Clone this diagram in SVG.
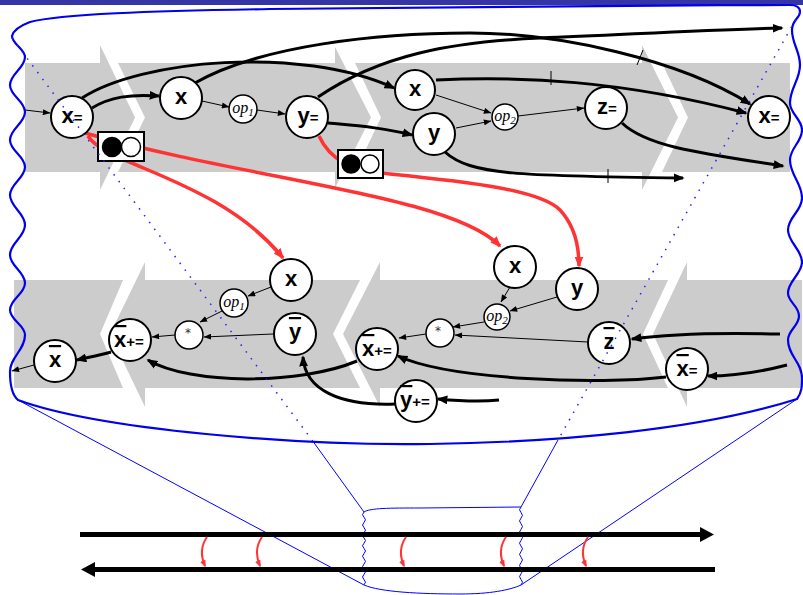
<svg xmlns="http://www.w3.org/2000/svg" width="803" height="595" viewBox="0 0 803 595">
<defs>
<style>
.band{fill:#cccccc}
.nd{fill:#fff;stroke:#000;stroke-width:2}
.sn{fill:#fff;stroke:#000;stroke-width:1.5}
.lb{font-family:"Liberation Sans",Arial,sans-serif;font-weight:bold;font-size:22px;text-anchor:middle;fill:#000}
.sm{font-size:15px}
.op{font-family:"Liberation Serif","Times New Roman",serif;font-style:italic;font-size:16px;text-anchor:middle;fill:#000}
.sub{font-size:11px}
.ast{font-family:"DejaVu Sans","Liberation Sans",sans-serif;font-size:12px;text-anchor:middle;fill:#333333}
.thk{fill:none;stroke:#000;stroke-width:3}
.thn{fill:none;stroke:#000;stroke-width:1}
.red{fill:none;stroke:#ff3333;stroke-width:3.5}
.rs{fill:none;stroke:#ff3333;stroke-width:2}
.ov{text-decoration:overline}
.blob{fill:none;stroke:#0000ee;stroke-width:2.2}
.zl{fill:none;stroke:#0000ff;stroke-width:1}
.dot{fill:none;stroke:#2222ff;stroke-width:1.5;stroke-dasharray:1.5 7}
.sw{fill:#fff;stroke:#000;stroke-width:2}
</style>
<marker id="ak" viewBox="0 0 10 8" refX="8.5" refY="4" markerWidth="11" markerHeight="9" markerUnits="userSpaceOnUse" orient="auto"><path d="M0,0 L10,4 L0,8 z" fill="#000"/></marker>
<marker id="as" viewBox="0 0 10 8" refX="9.5" refY="4" markerWidth="8" markerHeight="6" markerUnits="userSpaceOnUse" orient="auto"><path d="M0,0 L10,4 L0,8 z" fill="#000"/></marker>
<marker id="ar" viewBox="0 0 10 8" refX="8.5" refY="4" markerWidth="11" markerHeight="9" markerUnits="userSpaceOnUse" orient="auto"><path d="M0,0 L10,4 L0,8 z" fill="#ff3333"/></marker>
<marker id="arr" viewBox="0 0 10 8" refX="8" refY="4" markerWidth="7" markerHeight="6" markerUnits="userSpaceOnUse" orient="auto"><path d="M0,0 L10,4 L0,8 z" fill="#ff3333"/></marker>
</defs>
<rect x="0" y="0" width="803" height="595" fill="#fff"/>
<rect x="0" y="0" width="803" height="5" fill="#3535a5"/>

<g id="bands">
<polygon class="band" points="25,63 100,63 100,45 135,117.5 100,190 100,172 25,172"/>
<polygon class="band" points="118,63 335,63 335,47 371,117.5 335,188 335,172 118,172 145,117.5"/>
<polygon class="band" points="355,63 642,63 642,45 678,117.5 642,190 642,172 355,172 381,117.5"/>
<polygon class="band" points="662,63 790,63 790,172 662,172 688,117.5"/>
<polygon class="band" points="14,280 123,280 100,334 123,388 14,388"/>
<polygon class="band" points="145,280 145,262 110,334 145,407 145,388 360,388 333,334 360,280"/>
<polygon class="band" points="380,280 380,262 343,334 380,407 380,388 668,388 643,334 668,280"/>
<polygon class="band" points="687,280 687,262 653,334 687,407 687,388 802,388 802,280"/>
</g>

<g id="connectors">
<path class="thn" d="M25,110 L50,113" marker-end="url(#as)"/>
<path class="thk" d="M92,108 C110,97 130,94 159,96" marker-end="url(#ak)"/>
<path class="thk" d="M82,98 C140,60 300,45 394,88" marker-end="url(#ak)"/>
<path class="thk" d="M193,84 C260,45 380,33 470,33 C560,33 680,60 750,104" marker-end="url(#ak)"/>
<path class="thn" d="M637,65 L643,50"/>
<path class="thk" d="M318,97 C380,55 450,42 540,38 C620,35 700,30 782,28" marker-end="url(#ak)"/>
<path class="thn" d="M202,101 L229,107" marker-end="url(#as)"/>
<path class="thn" d="M257,110 L285,114" marker-end="url(#as)"/>
<path class="thk" d="M328,123 C360,126 385,128 412,135" marker-end="url(#ak)"/>
<path class="thn" d="M436,95 L491,113" marker-end="url(#as)"/>
<path class="thn" d="M456,128 L491,121" marker-end="url(#as)"/>
<path class="thn" d="M518,116 L584,108" marker-end="url(#as)"/>
<path class="thk" d="M436,80 C520,76 620,80 746,113" marker-end="url(#ak)"/>
<path class="thn" d="M551,71 L551,85"/>
<path class="thk" d="M445,152 C470,175 520,176 683,178" marker-end="url(#ak)"/>
<path class="thn" d="M608,169 L608,183"/>
<path class="thk" d="M622,123 C645,145 690,152 783,166" marker-end="url(#ak)"/>

<path class="thn" d="M271,287 L248,296" marker-end="url(#as)"/>
<path class="thn" d="M222,311 L200,322" marker-end="url(#as)"/>
<path class="thn" d="M273,334 L204,337" marker-end="url(#as)"/>
<path class="thn" d="M175,335 L152,337" marker-end="url(#as)"/>
<path class="thk" d="M111,352 C100,355 90,357 77,360" marker-end="url(#ak)"/>
<path class="thn" d="M34,365 L12,371" marker-end="url(#as)"/>
<path class="thk" d="M357,361 C300,385 190,385 148,360" marker-end="url(#ak)"/>
<path class="thk" d="M395,404 C340,406 305,390 303,357" marker-end="url(#ak)"/>
<path class="thk" d="M499,400 C480,402 460,401 438,399" marker-end="url(#ak)"/>
<path class="thn" d="M510,287 L501,302" marker-end="url(#as)"/>
<path class="thn" d="M557,297 L510,311" marker-end="url(#as)"/>
<path class="thn" d="M484,322 L453,327" marker-end="url(#as)"/>
<path class="thn" d="M588,342 L455,335" marker-end="url(#as)"/>
<path class="thn" d="M426,334 L399,338" marker-end="url(#as)"/>
<path class="thk" d="M666,377 C600,385 450,380 398,356" marker-end="url(#ak)"/>
<path class="thk" d="M780,334 C700,332 660,335 632,339" marker-end="url(#ak)"/>
<path class="thk" d="M787,365 C760,372 735,376 708,376" marker-end="url(#ak)"/>

<path class="red" d="M85,133 C250,180 450,195 500,246" marker-end="url(#ar)"/>
<path class="red" d="M88,136 C105,165 220,180 283,258" marker-end="url(#ar)"/>
<path class="red" d="M319,136 C330,160 350,170 390,174 C470,182 540,190 560,210 C574,225 579,245 579,266" marker-end="url(#ar)"/>
</g>

<g id="n-xeq1"><circle class="nd" cx="72" cy="117" r="21"/><text class="lb" x="72" y="123">x<tspan class="sm">=</tspan></text></g>
<g id="n-x1"><circle class="nd" cx="181" cy="98" r="21"/><text class="lb" x="181" y="104">x</text></g>
<g id="n-op1"><circle class="sn" cx="243" cy="109" r="14"/><text class="op" x="243" y="113">op<tspan class="sub" dy="3">1</tspan></text></g>
<g id="n-yeq"><circle class="nd" cx="307" cy="117" r="21"/><text class="lb" x="308" y="123">y<tspan class="sm">=</tspan></text></g>
<g id="n-x2"><circle class="nd" cx="415" cy="90" r="20"/><text class="lb" x="415" y="96">x</text></g>
<g id="n-y2"><circle class="nd" cx="434" cy="134" r="21"/><text class="lb" x="434" y="140">y</text></g>
<g id="n-op2"><circle class="sn" cx="505" cy="117" r="13"/><text class="op" x="505" y="121">op<tspan class="sub" dy="3">2</tspan></text></g>
<g id="n-zeq"><circle class="nd" cx="606" cy="108" r="21"/><text class="lb" x="607" y="114">z<tspan class="sm">=</tspan></text></g>
<g id="n-xeq2"><circle class="nd" cx="769" cy="117" r="21"/><text class="lb" x="769" y="123">x<tspan class="sm">=</tspan></text></g>

<g id="sw1"><rect class="sw" x="98" y="132" width="46" height="29"/><circle cx="112" cy="147" r="9.5" fill="#000" stroke="#000" stroke-width="1.5"/><circle class="sn" cx="131" cy="147" r="9.5"/></g>
<g id="sw2"><rect class="sw" x="338" y="150" width="45" height="28"/><circle cx="351" cy="164" r="9" fill="#000" stroke="#000" stroke-width="1.5"/><circle class="sn" cx="370" cy="164" r="9"/></g>

<g id="n-xb1"><circle class="nd" cx="55" cy="361" r="21"/><text class="lb" x="55" y="367"><tspan class="ov">x</tspan></text></g>
<g id="n-xbpe1"><circle class="nd" cx="130" cy="340" r="21"/><text class="lb" x="129" y="347"><tspan class="ov">x</tspan><tspan class="sm">+=</tspan></text></g>
<g id="n-mul1"><circle class="sn" cx="189" cy="335" r="14"/><text class="ast" x="188" y="337" fill="#333333">*</text></g>
<g id="n-op1b"><circle class="sn" cx="234" cy="303" r="14"/><text class="op" x="234" y="307">op<tspan class="sub" dy="3">1</tspan></text></g>
<g id="n-x3"><circle class="nd" cx="291" cy="280" r="21"/><text class="lb" x="291" y="286">x</text></g>
<g id="n-yb"><circle class="nd" cx="295" cy="334" r="21"/><text class="lb" x="295" y="339"><tspan class="ov">y</tspan></text></g>
<g id="n-xbpe2"><circle class="nd" cx="377" cy="349" r="21"/><text class="lb" x="377" y="356"><tspan class="ov">x</tspan><tspan class="sm">+=</tspan></text></g>
<g id="n-mul2"><circle class="sn" cx="440" cy="333" r="14"/><text class="ast" x="438" y="335" fill="#333333">*</text></g>
<g id="n-op2b"><circle class="sn" cx="497" cy="317" r="13"/><text class="op" x="497" y="321">op<tspan class="sub" dy="3">2</tspan></text></g>
<g id="n-x4"><circle class="nd" cx="515" cy="267" r="21"/><text class="lb" x="515" y="273">x</text></g>
<g id="n-ybpe"><circle class="nd" cx="416" cy="401" r="21"/><text class="lb" x="415" y="407"><tspan class="ov">y</tspan><tspan class="sm">+=</tspan></text></g>
<g id="n-y3"><circle class="nd" cx="577" cy="289" r="21"/><text class="lb" x="577" y="295">y</text></g>
<g id="n-zb"><circle class="nd" cx="609" cy="343" r="21"/><text class="lb" x="609" y="349"><tspan class="ov">z</tspan></text></g>
<g id="n-xbeq"><circle class="nd" cx="687" cy="369" r="21"/><text class="lb" x="687" y="376"><tspan class="ov">x</tspan><tspan class="sm">=</tspan></text></g>

<g id="zoom">
<path class="blob" d="M12,36 C12,44 25,49 25,57 C25,68 10,74 10,85 C10,96 25,101 25,112 C25,123 10,129 10,140 C10,151 25,156 25,167 C25,178 10,184 10,195 C10,207 25,213 25,225 C25,237 10,243 10,255 C10,266 25,272 25,283 C25,294 10,299 10,310 C10,320 25,325 25,335 C25,350 10,357 10,372 C10,385 12,395 18,400 C100,430 300,446 430,444 C560,442 700,430 797,399 C802,392 802,386 802,378 C802,362 788,356 788,340 C788,330 799,326 799,316 C799,306 788,302 788,293 C788,281 802,274 802,262 C802,250 788,242 788,230 C788,217 802,211 802,198 C802,183 790,175 790,160 C790,148 802,142 802,130 C802,119 790,114 790,103 C790,88 800,80 800,65 C800,51 792,44 792,30 C792,20 800,18 800,12 C800,7 796,5 790,5 C600,5 400,7 270,9 C150,11 60,14 30,22 Q14,28 12,36 Z"/>
<path class="dot" d="M12,38 L312,440"/>
<path class="dot" d="M800,12 L558,440"/>
<path class="zl" d="M312,440 L364,512 M558,440 L521,507 M18,400 L364,585 M797,399 L521,585"/>
<path class="zl" d="M364,512 C370,508 390,508 420,508 L521,507"/>
<path class="zl" d="M364,585 C380,592 420,594 460,594 C490,594 510,590 521,585"/>
<path class="zl" d="M364,512 q-3,2.6 0,5.2 q3,2.6 0,5.2 q-3,2.6 0,5.2 q3,2.6 0,5.2 q-3,2.6 0,5.2 q3,2.6 0,5.2 q-3,2.6 0,5.2 q3,2.6 0,5.2 q-3,2.6 0,5.2 q3,2.6 0,5.2 q-3,2.6 0,5.2 q3,2.6 0,5.2 q-3,2.6 0,5.2 q3,2.6 0,5.2"/>
<path class="zl" d="M521,507 q-3,2.8 0,5.57 q3,2.8 0,5.57 q-3,2.8 0,5.57 q3,2.8 0,5.57 q-3,2.8 0,5.57 q3,2.8 0,5.57 q-3,2.8 0,5.57 q3,2.8 0,5.57 q-3,2.8 0,5.57 q3,2.8 0,5.57 q-3,2.8 0,5.57 q3,2.8 0,5.57 q-3,2.8 0,5.57 q3,2.8 0,5.57"/>
</g>

<g id="timeline">
<line x1="80" y1="534.5" x2="702" y2="534.5" stroke="#000" stroke-width="5"/>
<polygon points="700,527 714,534.5 700,542" fill="#000"/>
<line x1="93" y1="569.5" x2="715" y2="569.5" stroke="#000" stroke-width="5"/>
<polygon points="95,562 81,569.5 95,577" fill="#000"/>
<path class="rs" d="M207,537 Q198,550 205,566" marker-end="url(#arr)"/>
<path class="rs" d="M262,537 Q253,550 260,566" marker-end="url(#arr)"/>
<path class="rs" d="M406,537 Q397,550 404,566" marker-end="url(#arr)"/>
<path class="rs" d="M506,537 Q497,550 504,566" marker-end="url(#arr)"/>
<path class="rs" d="M588,537 Q579,550 586,566" marker-end="url(#arr)"/>
</g>
</svg>
